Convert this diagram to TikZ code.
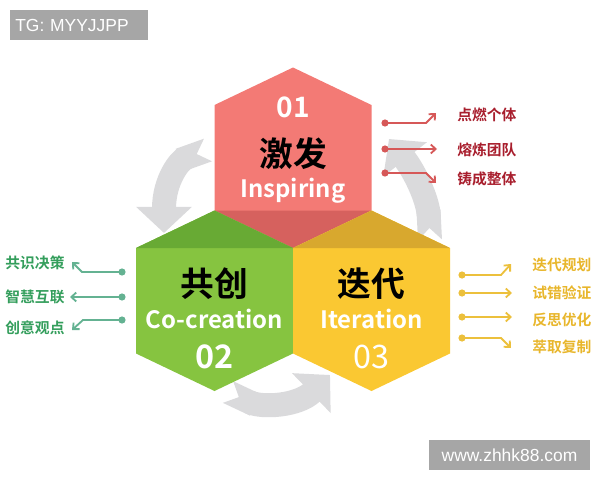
\documentclass[tikz,border=0pt]{standalone}
\usepackage{fontspec}
\setmainfont{Liberation Sans}
\newfontfamily\cjk{Noto Sans CJK SC}[BoldFont={Noto Sans CJK SC Bold}]
\usepackage{tikz}
\usetikzlibrary{arrows.meta}
\definecolor{redmain}{RGB}{243 122 117}
\definecolor{reddark}{RGB}{214 97 94}
\definecolor{greenmain}{RGB}{134 196 64}
\definecolor{greendark}{RGB}{104 170 52}
\definecolor{yellowmain}{RGB}{250 200 50}
\definecolor{yellowdark}{RGB}{216 168 46}
\definecolor{cyclegray}{RGB}{218 218 220}
\definecolor{redtext}{RGB}{168 30 45}
\definecolor{redline}{RGB}{214 88 88}
\definecolor{greentext}{RGB}{52 158 92}
\definecolor{greenline}{RGB}{100 178 146}
\definecolor{yellowtext}{RGB}{232 182 44}
\definecolor{yellowline}{RGB}{236 192 60}
\definecolor{wmgray}{RGB}{166 166 166}
\tikzstyle{titletext} = [font=\cjk\bfseries\fontsize{24}{28}\selectfont, text=black, inner sep=0pt]
\tikzstyle{subtext} = [font=\cjk\bfseries\fontsize{17}{20}\selectfont, text=white, inner sep=0pt, anchor=base]
\tikzstyle{numtext} = [font=\cjk\bfseries\fontsize{20}{24}\selectfont, text=white, inner sep=0pt, anchor=base]
\tikzstyle{sidelabel} = [font=\cjk\bfseries\fontsize{10.5}{12}\selectfont, inner sep=0pt]
\tikzstyle{cyclearrow} = [line width=0.6cm, draw=cyclegray, arrows={Triangle Cap[reversed]-Triangle[length=0.65cm, width=1.35cm]}]
\tikzstyle{dotnode} = [circle, inner sep=0pt, minimum size=0.18cm]
\tikzstyle{sidearrow} = [line width=1.3pt, -{Straight Barb[length=1.2mm, width=2.2mm]}]
\tikzstyle{wmark} = [fill=wmgray, text=white, font=\fontsize{12.4}{14}\selectfont, inner sep=0.125cm, minimum height=0.75cm]

\begin{document}
\begin{tikzpicture}[x=0.025cm, y=-0.025cm]
        \useasboundingbox (0,0) rectangle (600,480);
        % cycle arrows behind the hexagons
        \draw [cyclearrow] (208,150) .. controls (180,160) and (164,180) .. (164,233);
        \draw [cyclearrow] (430,240) .. controls (428,200) and (415,172) .. (389,139);
        \draw [cyclearrow] (228,392) .. controls (262,408) and (298,406) .. (330,375);
        % hexagons
        \fill [redmain] (293,67.5) -- (371.5,105) -- (371.5,210.5) -- (293,248) -- (214.5,210.5) -- (214.5,105) -- cycle;
        \fill [reddark] (214.5,210.5) -- (293,248) -- (371.5,210.5) -- cycle;
        \fill [greenmain] (214.5,210.5) -- (293,248) -- (293,353.5) -- (214.5,391) -- (136,353.5) -- (136,248) -- cycle;
        \fill [greendark] (136,248) -- (214.5,210.5) -- (293,248) -- cycle;
        \fill [yellowmain] (371.5,210.5) -- (450,248) -- (450,353.5) -- (371.5,391) -- (293,353.5) -- (293,248) -- cycle;
        \fill [yellowdark] (293,248) -- (371.5,210.5) -- (450,248) -- cycle;
        \node (num1) [numtext] at (293,117) {01};
        \node (title1) [titletext] at (293,154) {激发};
        \node (sub1) [subtext] at (293,197) {Inspiring};
        \node (title2) [titletext] at (214.5,284) {共创};
        \node (sub2) [subtext] at (214.5,328) {Co-creation};
        \node (num2) [numtext, font=\cjk\bfseries\fontsize{23}{26}\selectfont] at (214.5,368) {02};
        \node (title3) [titletext] at (371.5,284) {迭代};
        \node (sub3) [subtext] at (371.5,328) {Iteration};
        \node (num3) [numtext, font=\cjk\fontsize{23}{26}\selectfont] at (371.5,368) {03};
        % red side
        \node (rlab1) [sidelabel, text=redtext, anchor=west] at (457,115) {点燃个体};
        \node (rlab2) [sidelabel, text=redtext, anchor=west] at (457,150) {熔炼团队};
        \node (rlab3) [sidelabel, text=redtext, anchor=west] at (457,179) {铸成整体};
        \node (rdot1) [dotnode, fill=redline] at (385,123) {};
        \node (rdot2) [dotnode, fill=redline] at (385,149) {};
        \node (rdot3) [dotnode, fill=redline] at (385,173) {};
        \coordinate (rknee1) at (426,123);
        \coordinate (rend1) at (436,113);
        \coordinate (rend2) at (437,149);
        \coordinate (rknee3) at (426,173);
        \coordinate (rend3) at (436,183);
        \draw [sidearrow, redline] (rdot1.center) -- (rknee1) -- (rend1);
        \draw [sidearrow, redline] (rdot2.center) -- (rend2);
        \draw [sidearrow, redline] (rdot3.center) -- (rknee3) -- (rend3);
        % green side
        \node (glab1) [sidelabel, text=greentext] at (35,263) {共识决策};
        \node (glab2) [sidelabel, text=greentext] at (35,297) {智慧互联};
        \node (glab3) [sidelabel, text=greentext] at (35,328) {创意观点};
        \node (gdot1) [dotnode, fill=greenline] at (122,272) {};
        \node (gdot2) [dotnode, fill=greenline] at (122,297) {};
        \node (gdot3) [dotnode, fill=greenline] at (122,320) {};
        \coordinate (gknee1) at (82,272);
        \coordinate (gend1) at (72,262);
        \coordinate (gend2) at (70,297);
        \coordinate (gknee3) at (83,320);
        \coordinate (gend3) at (72,330);
        \draw [sidearrow, greenline] (gdot1.center) -- (gknee1) -- (gend1);
        \draw [sidearrow, greenline] (gdot2.center) -- (gend2);
        \draw [sidearrow, greenline] (gdot3.center) -- (gknee3) -- (gend3);
        % yellow side
        \node (ylab1) [sidelabel, text=yellowtext, anchor=west] at (532,265) {迭代规划};
        \node (ylab2) [sidelabel, text=yellowtext, anchor=west] at (532,293) {试错验证};
        \node (ylab3) [sidelabel, text=yellowtext, anchor=west] at (532,320) {反思优化};
        \node (ylab4) [sidelabel, text=yellowtext, anchor=west] at (532,347) {萃取复制};
        \node (ydot1) [dotnode, fill=yellowline] at (462,275) {};
        \node (ydot2) [dotnode, fill=yellowline] at (462,293) {};
        \node (ydot3) [dotnode, fill=yellowline] at (462,317) {};
        \node (ydot4) [dotnode, fill=yellowline] at (462,338) {};
        \coordinate (yknee1) at (501,275);
        \coordinate (yend1) at (511,264);
        \coordinate (yend2) at (512,293);
        \coordinate (yend3) at (512,317);
        \coordinate (yknee4) at (501,338);
        \coordinate (yend4) at (511,348);
        \draw [sidearrow, yellowline] (ydot1.center) -- (yknee1) -- (yend1);
        \draw [sidearrow, yellowline] (ydot2.center) -- (yend2);
        \draw [sidearrow, yellowline] (ydot3.center) -- (yend3);
        \draw [sidearrow, yellowline] (ydot4.center) -- (yknee4) -- (yend4);
        % watermarks
        \node (tg) [wmark, anchor=north west, text width=3.2cm, align=left] at (10,10) {TG: MYYJJPP};
        \node (site) [wmark, minimum width=4.025cm] at (509.5,455) {www.zhhk88.com};
    \end{tikzpicture}
\end{document}
